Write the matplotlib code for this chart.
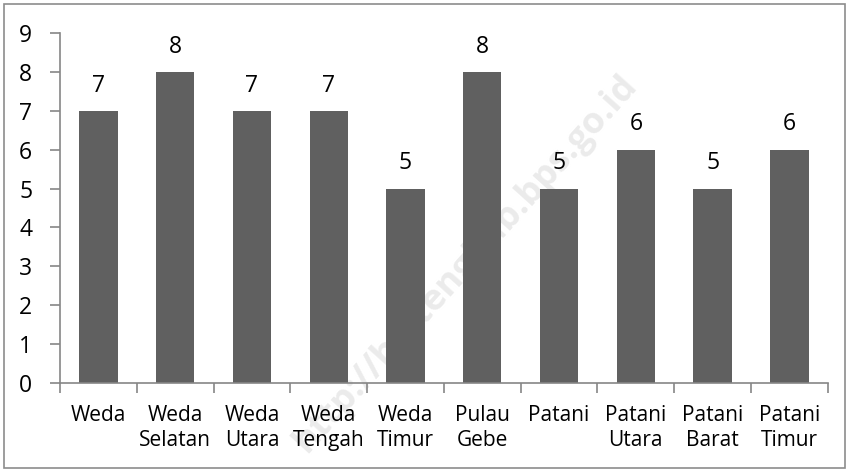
import matplotlib
matplotlib.use("Agg")
import matplotlib.pyplot as plt
import numpy as np

categories = ["Weda", "Weda\nSelatan", "Weda\nUtara", "Weda\nTengah", "Weda\nTimur",
              "Pulau\nGebe", "Patani", "Patani\nUtara", "Patani\nBarat", "Patani\nTimur"]
values = [7, 8, 7, 7, 5, 8, 5, 6, 5, 6]

plt.rcParams['font.family'] = ['Open Sans', 'DejaVu Sans']

fig = plt.figure(figsize=(8.49, 4.72), dpi=100)
ax = fig.add_axes([0.0707, 0.1886, 0.9043, 0.7414])
ax.set_facecolor("none")

# figure border
fig.patches.append(plt.Rectangle((0.005, 0.008), 0.99, 0.984, transform=fig.transFigure,
                                 fill=False, edgecolor="#8c8c8c", linewidth=1.2))

# watermark (behind the bars)
fig.text(0.548, 0.44, "http://haltengkab.bps.go.id", rotation=48, fontsize=26,
         fontweight="bold", color="#ebebeb", ha="center", va="center", zorder=-1)

x = np.arange(len(categories))
bars = ax.bar(x, values, width=0.5, color="#606060", zorder=2)
for xi, v in zip(x, values):
    ax.annotate(str(v), (xi, v), xytext=(0, 9.5), textcoords="offset points",
                ha="center", va="bottom", fontsize=16.5, color="black")

ax.set_xlim(-0.5, len(categories) - 0.5)
ax.set_ylim(0, 9)
ax.set_yticks(range(0, 10))
ax.tick_params(axis="y", labelsize=16.5, length=7, width=1.2, color="#868686", pad=13)

ax.set_xticks(x)
ax.set_xticklabels(categories, fontsize=15, linespacing=1.25)
ax.tick_params(axis="x", which="major", length=0, pad=16)
ax.set_xticks(np.arange(-0.5, len(categories)), minor=True)
ax.tick_params(axis="x", which="minor", length=7, width=1.2, color="#868686")

for s in ["top", "right"]:
    ax.spines[s].set_visible(False)
for s in ["left", "bottom"]:
    ax.spines[s].set_color("#868686")
    ax.spines[s].set_linewidth(1.2)

fig.savefig("out.png", dpi=100)
